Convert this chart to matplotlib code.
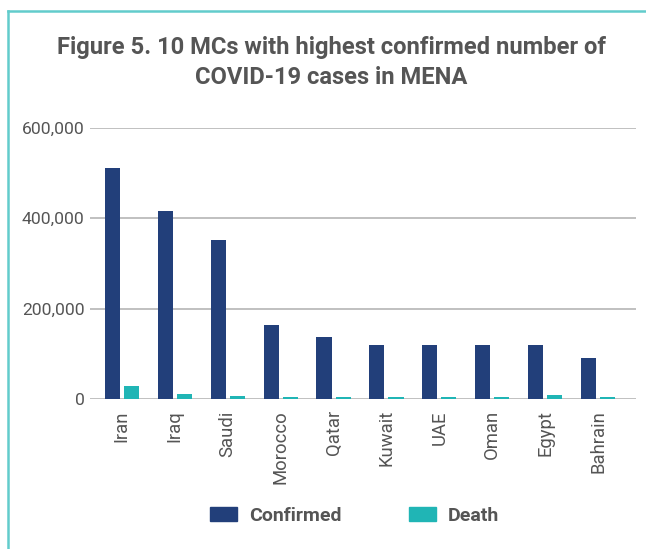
import numpy as np
import matplotlib.pyplot as plt
from matplotlib.lines import Line2D
from matplotlib.patches import Patch
from matplotlib.ticker import FuncFormatter

plt.rcParams['font.family'] = ['Roboto', 'DejaVu Sans']

countries = ["Iran", "Iraq", "Saudi", "Morocco", "Qatar", "Kuwait", "UAE", "Oman", "Egypt", "Bahrain"]
confirmed = [511000, 416000, 352000, 164000, 137000, 120000, 120000, 119000, 120000, 91000]
deaths = [29000, 11000, 6500, 4500, 4500, 4500, 4500, 4500, 8500, 4500]

navy = "#223F7A"
teal = "#20B5B5"
grey_text = "#555555"

fig = plt.figure(figsize=(6.46, 5.49), dpi=100)
ax = fig.add_axes([0.139, 0.273, 0.846, 0.494])

x = np.arange(len(countries))
w = 0.284
ax.bar(x - 0.18, confirmed, width=w, color=navy, zorder=3)
ax.bar(x + 0.18, deaths, width=w, color=teal, zorder=3)

ax.set_xlim(-0.605, 9.72)
ax.set_ylim(0, 600000)
ax.set_yticks([0, 200000, 400000, 600000])
ax.yaxis.set_major_formatter(FuncFormatter(lambda v, p: f"{int(v):,}"))
ax.grid(axis="y", color="#b5b5b5", linewidth=1.2, zorder=0)
ax.set_axisbelow(True)
for s in ax.spines.values():
    s.set_visible(False)
ax.tick_params(axis="y", length=0, pad=3.6, labelsize=12.6, labelcolor=grey_text)
ax.tick_params(axis="x", length=0, pad=8, labelsize=13.3, labelcolor=grey_text)
ax.set_xticks(x)
ax.set_xticklabels(countries, rotation=90)

fig.text(0.513, 0.886, "Figure 5. 10 MCs with highest confirmed number of\nCOVID-19 cases in MENA",
         ha="center", va="center", fontsize=17.1, fontweight="bold", color=grey_text, linespacing=1.38)

handles = [Patch(color=navy, label="Confirmed"), Patch(color=teal, label="Death")]
fig.legend(handles=handles, loc="center", bbox_to_anchor=(0.549, 0.061), ncol=2, frameon=False,
           prop={"weight": "bold", "size": 14}, labelcolor=grey_text,
           handlelength=1.4, handleheight=0.72, columnspacing=3.45, handletextpad=0.62)

# teal frame on the left and top
border = "#62CCCC"
fig.add_artist(Line2D([0.0124, 0.0124], [0.0, 0.98], color=border, linewidth=1.8))
fig.add_artist(Line2D([0.0124, 1.0], [0.98, 0.98], color=border, linewidth=1.8))

fig.savefig("out.png", dpi=100)
